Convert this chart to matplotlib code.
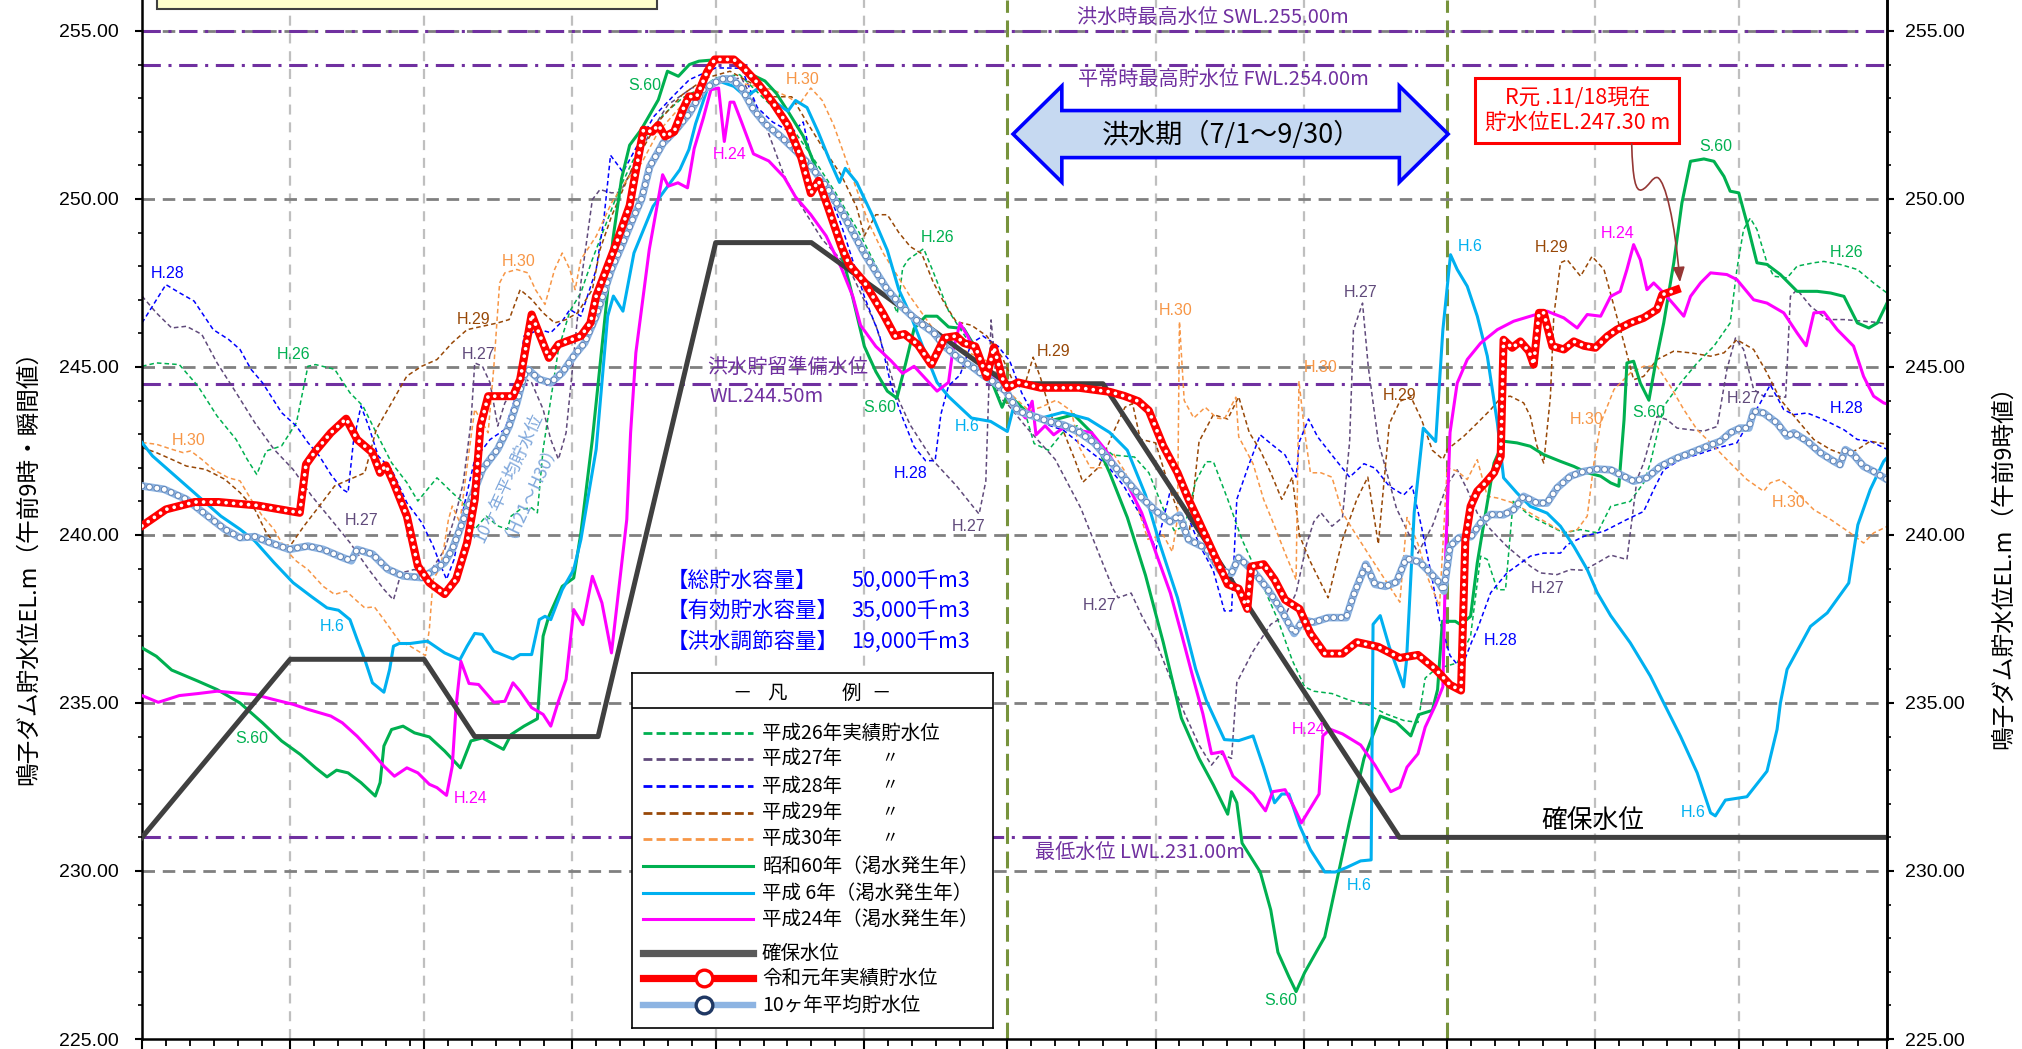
import matplotlib
matplotlib.use("Agg")
import matplotlib.pyplot as plt
from matplotlib.patches import Polygon, Rectangle, FancyArrowPatch
from matplotlib.path import Path
from matplotlib.ticker import FormatStrFormatter

JP = ["Noto Sans CJK JP", "DejaVu Sans"]
LAT = ["Liberation Sans", "DejaVu Sans"]
plt.rcParams["font.family"] = JP

# x = day of year (0 = 1/1, 365 = next 1/1)
month_start = [0, 31, 59, 90, 120, 151, 181, 212, 243, 273, 304, 334]
flood_start, flood_end = 181, 273   # 7/1 - 9/30

# ---- reservoir levels (EL.m) ----
h26_day = [0, 3, 7.8, 11.7, 15.7, 19.7, 22, 24, 26, 29.2, 32.3, 34.7, 36.3, 40.3, 43.5, 46.2, 49, 52.2, 55.4, 57.7,
           61.7, 64.9, 67.2, 69.6, 72, 74.4, 76.4, 77.2, 79.1, 81.5, 82.7, 83.9, 85.5, 87.1, 89.5, 91.8, 94.2, 96.6,
           99.8, 102.1, 105, 109, 113, 117, 120, 125, 130, 135, 140, 145, 150, 155, 158, 159.1, 160.3, 163.5, 165.5,
           168.7, 171.1, 175.1, 179.9, 181, 185.1, 186.6, 189.6, 192.6, 195.6, 200.1, 203.1, 207.6, 210.6, 213.6,
           215.9, 218.1, 220.4, 222.6, 224.1, 227.1, 230.1, 233.9, 237.6, 240.6, 243.2, 245.1, 248.9, 252.6, 256.4,
           260.1, 263.9, 266.9, 268.4, 270.6, 275.1, 277.9, 280, 281.4, 283.5, 285.2, 286.8, 290.4, 293.9, 297.4,
           300.9, 304.4, 307.2, 311.3, 314.1, 315.5, 318.3, 321.8, 325.3, 328.8, 332.2, 333.6, 335, 336.4, 337.8,
           339.9, 341.3, 344.1, 346.2, 349.7, 351.8, 355.2, 358.8, 362.2, 365]
h26_lv = [245.02, 245.12, 245.07, 244.43, 243.54, 242.84, 242.25, 241.8, 242.5, 242.65, 243.34, 245.02, 245.07, 244.93,
          244.23, 243.84, 243.04, 242.15, 241.56, 241.01, 241.7, 241.26, 240.96, 240.17, 240.56, 240.27, 240.17,
          240.56, 240.76, 240.81, 240.66, 242.55, 244.03, 245.52, 246.66, 247.21, 248.2, 249.09, 250.28, 250.97,
          251.8, 252.5, 253.0, 253.3, 253.6, 253.7, 253.0, 252.3, 251.3, 250.2, 249.0, 247.6, 246.6, 247.94, 248.2,
          248.52, 247.83, 246.67, 246.14, 245.29, 244.54, 244.11, 243.45, 242.72, 242.52, 243.05, 243.25, 242.72,
          242.38, 242.32, 241.85, 240.79, 240.13, 240.26, 241.59, 242.18, 242.18, 241.06, 239.86, 238.67, 237.47,
          236.27, 235.48, 235.35, 235.28, 235.08, 234.95, 234.68, 234.48, 234.42, 235.74, 236.01, 236.19, 236.99,
          239.37, 239.27, 238.37, 238.37, 241.0, 240.56, 240.31, 240.06, 240.16, 240.06, 240.85, 241.0, 241.55,
          242.14, 243.83, 244.52, 245.12, 245.62, 246.31, 247.9, 249.09, 249.43, 249.09, 248.1, 247.7, 247.65, 248.0,
          248.1, 248.14, 248.05, 247.9, 247.5, 247.2]

h27_day = [0, 3, 6.2, 9.3, 12.5, 15.7, 19.7, 23.6, 27.6, 31.6, 35.5, 39.5, 43.5, 47.4, 50.6, 52.6, 54.2, 56.9, 60.1,
           63.3, 65.7, 67.2, 68.8, 69.6, 71.2, 72.8, 74.4, 75.9, 77.6, 79.1, 81.5, 83.9, 85.5, 87.1, 88.7, 90.3, 91.8,
           94.2, 95.8, 98.2, 100, 103, 106, 110, 115, 120, 125.4, 130.3, 134.3, 136.7, 142.3, 147.9, 153.5, 158.3,
           160.7, 165.5, 170.3, 175.1, 176.5, 177.6, 179.1, 181, 185, 191, 196.4, 200.1, 203.1, 204.2, 206.9, 209.1,
           212.1, 215.1, 218.1, 221.1, 223.7, 225.6, 227.9, 229, 232.4, 236.1, 239.1, 241.4, 243.6, 245.1, 246.6,
           248.9, 251.1, 252.6, 253.4, 255.3, 256.5, 258.6, 262.4, 266.9, 270, 273, 275.1, 277.2, 279.3, 282.1, 285.5,
           290.4, 292.5, 296, 298.8, 301.6, 304.4, 307.2, 310.6, 312.7, 314.1, 316.9, 319, 321.1, 323.9, 326.7, 329.5,
           331.5, 333.3, 335, 337.1, 339.2, 342, 343.8, 344.8, 346.2, 349, 352.5, 356, 360.1, 365]
h27_lv = [247.11, 246.61, 246.16, 246.21, 245.97, 245.12, 244.23, 243.34, 242.55, 241.95, 241.16, 240.47, 239.77,
          238.98, 238.38, 238.07, 238.87, 238.97, 238.87, 239.56, 240.66, 241.56, 243.34, 245.12, 245.02, 244.53,
          243.24, 243.93, 244.33, 244.73, 244.53, 243.74, 242.84, 242.25, 243.04, 245.32, 247.5, 249.98, 250.28,
          250.18, 250.2, 251.0, 251.9, 252.8, 253.3, 253.5, 253.6, 252.24, 250.7, 250.06, 248.79, 247.94, 246.24,
          244.01, 243.27, 242.21, 241.47, 240.62, 241.6, 246.4, 244.12, 243.9, 243.2, 242.25, 240.79, 239.46, 238.4,
          238.13, 238.27, 237.6, 236.81, 235.74, 234.68, 233.75, 233.15, 233.49, 233.35, 235.61, 236.54, 237.34,
          237.6, 238.27, 239.73, 240.39, 240.66, 240.26, 240.52, 242.78, 246.1, 246.9, 245.0, 242.78, 240.79, 239.46,
          240.3, 241.5, 241.94, 241.35, 240.65, 240.16, 239.66, 239.07, 238.87, 238.82, 238.97, 238.95, 239.17,
          239.4, 239.27, 241.65, 242.14, 243.53, 243.43, 243.18, 243.13, 243.09, 243.23, 244.92, 245.86, 245.52,
          244.33, 244.13, 244.13, 244.1, 247.1, 247.3, 246.81, 246.41, 246.41, 246.36, 246.3]

h28_day = [0, 2.2, 5, 7.8, 10.9, 14.9, 18.1, 20.5, 22.8, 25.2, 29.2, 32.3, 34.7, 37.1, 39.5, 41.9, 43.1, 44.2, 45.8,
           47.4, 49.4, 52.2, 55.4, 58.5, 60.9, 62.5, 63.7, 65.3, 67.2, 69.6, 72.8, 75.9, 78.4, 79.9, 83.1, 85.5, 87.9,
           89.5, 91.8, 95, 96.6, 98, 100.6, 103.5, 107.1, 111.7, 114.5, 120, 125.4, 128.7, 131.9, 135.9, 138.3, 139.9,
           143.1, 146.3, 148.7, 151.1, 154.3, 156.7, 159.1, 161.5, 163.9, 165.9, 167.1, 168.7, 171.1, 173.5, 175.9,
           179.1, 181.5, 184, 186.4, 189.6, 192.8, 196, 201.6, 205.4, 209.1, 212.1, 215.1, 218.1, 221.1, 224.1, 226.4,
           227.9, 229, 231.6, 233.9, 236.1, 239.1, 241.4, 242.1, 244, 245.9, 249.6, 252.6, 255.6, 257.9, 260.9, 263.9,
           265.7, 267.6, 269.9, 271.4, 273.6, 275.9, 278.1, 279.3, 282.1, 285.5, 290.4, 293.2, 296.7, 298.1, 301.6,
           305.8, 310.6, 314.1, 316.2, 318.3, 321.8, 325.3, 329.5, 333.6, 336.4, 338.5, 340.6, 343.4, 345.5, 348.3,
           351.8, 356, 358.8, 361.5, 365]
h28_lv = [246.31, 246.81, 247.45, 247.21, 246.96, 246.11, 245.82, 245.52, 244.93, 244.53, 243.64, 243.24, 242.75,
          242.35, 241.8, 241.36, 241.26, 242.75, 243.84, 243.24, 242.35, 241.95, 240.96, 240.37, 239.67, 239.08,
          238.68, 239.28, 240.76, 242.25, 242.84, 243.14, 244.23, 245.92, 246.11, 246.02, 246.36, 246.71, 246.51,
          247.9, 249.39, 251.3, 250.8, 251.56, 252.46, 253.15, 253.55, 253.9, 253.89, 252.72, 252.29, 251.97, 252.29,
          251.23, 250.38, 249.21, 248.15, 247.09, 245.92, 244.44, 243.48, 242.63, 242.21, 242.21, 243.59, 244.44,
          244.76, 245.71, 245.92, 245.61, 245.18, 244.23, 243.59, 243.27, 243.11, 242.74, 242.12, 241.45, 240.52,
          239.59, 241.32, 240.79, 239.73, 238.93, 237.74, 237.74, 241.06, 242.12, 242.98, 242.72, 242.38, 241.72,
          242.78, 243.45, 242.92, 242.25, 241.72, 242.12, 241.99, 241.45, 241.19, 241.45, 240.26, 238.67, 237.47,
          236.41, 236.01, 236.81, 237.19, 238.28, 238.87, 239.37, 239.46, 239.46, 239.71, 239.96, 240.11, 240.46,
          240.7, 241.35, 241.94, 242.24, 242.39, 242.59, 242.74, 243.43, 243.93, 244.47, 243.73, 243.58, 243.63,
          243.43, 243.13, 242.84, 242.79, 242.55]

h29_day = [0, 3, 6.2, 9.3, 13.3, 17.3, 20.5, 23.6, 26, 28.4, 31.2, 33.9, 37.1, 40.3, 44.2, 46.6, 49, 52.2, 55.4, 58.5,
           61.7, 64.9, 68, 71.2, 74.4, 76.8, 79.1, 81.5, 83.9, 86.3, 88.7, 91.1, 94.2, 95.8, 98.2, 100.6, 103, 108,
           113, 118, 123, 128, 131.9, 135.9, 139, 142.3, 146.3, 149.5, 151.1, 153.5, 155.9, 158.3, 160.7, 163.1,
           165.5, 167.9, 170.3, 173.5, 176.7, 179.9, 182.3, 184.8, 186.4, 188, 190.4, 192.8, 195.2, 196.8, 200, 203.2,
           205.6, 207.2, 208.8, 212, 215.1, 218.9, 221.1, 224.1, 227.1, 229.4, 231.6, 233.9, 236.1, 238.4, 240.6,
           242.1, 244.4, 248.1, 251.1, 254.1, 256.4, 258.6, 260.9, 263.1, 265.4, 267.6, 269.9, 272.1, 273, 276.5,
           279.3, 282.1, 284.2, 286.2, 289, 290.4, 291.8, 293.2, 294.6, 295.3, 296.7, 298.1, 300.9, 303.3, 305.8,
           307.9, 310, 312, 314.1, 316.9, 320.4, 323.9, 328.1, 330.9, 333.6, 337.1, 339.9, 342.7, 346.2, 349.7, 353.2,
           356, 358.8, 361.5, 365]
h29_lv = [242.6, 242.45, 242.25, 242.05, 241.95, 241.66, 241.26, 240.76, 240.07, 239.62, 239.72, 240.27, 240.86, 241.46,
          241.7, 241.85, 243.14, 243.93, 244.73, 245.02, 245.22, 245.72, 246.11, 246.21, 246.31, 246.41, 247.3, 247.01,
          246.61, 246.31, 246.41, 246.61, 247.3, 248.49, 249.48, 250.28, 251.07, 252.3, 253.1, 253.6, 253.8, 253.4,
          253.04, 253.04, 252.3, 251.55, 250.7, 249.75, 248.9, 249.53, 249.53, 249.0, 248.58, 248.37, 247.52, 246.88,
          246.35, 246.24, 245.92, 245.29, 244.54, 244.54, 245.29, 244.65, 243.48, 243.06, 242.21, 241.57, 242.0,
          243.06, 243.8, 243.91, 242.85, 242.74, 241.32, 239.86, 242.78, 243.58, 243.45, 244.11, 243.05, 242.52,
          241.85, 241.06, 241.72, 239.99, 239.2, 238.13, 239.86, 241.06, 241.72, 239.73, 243.31, 243.98, 244.11,
          243.45, 242.52, 242.25, 242.54, 242.94, 243.33, 243.73, 244.08, 244.13, 243.93, 243.53, 242.64, 242.14,
          244.13, 246.51, 248.1, 248.19, 247.7, 248.29, 247.9, 246.81, 245.71, 244.62, 244.72, 245.22, 245.47, 245.42,
          245.32, 245.42, 245.81, 245.52, 244.82, 244.03, 243.43, 242.84, 242.54, 242.39, 242.54, 242.79, 242.7]

h30_day = [0, 3, 6.2, 8.6, 10.2, 12.5, 14.9, 18.1, 20.5, 22.8, 25.2, 27.6, 30, 32.3, 34.7, 37.9, 40.3, 42.7, 45, 46.6,
           48.6, 50.6, 53.8, 56.1, 59.3, 60.1, 60.9, 62.5, 64.1, 64.9, 66.5, 68, 69.6, 71.2, 72.4, 73.6, 74.8, 75.9,
           78.4, 80.7, 82.3, 84.3, 86.3, 87.9, 89.5, 90.6, 91.8, 95, 98.2, 101.4, 104.5, 108, 113, 118, 122, 127,
           131.9, 135.1, 137.5, 139.9, 142.3, 144.7, 147.1, 149.5, 151.9, 155.1, 157.5, 160.7, 163.9, 167.1, 170.3,
           173.5, 176.7, 179.9, 182.3, 185.6, 188, 191.2, 194.4, 196, 198.4, 200.8, 203.2, 205.6, 208, 210.4, 213.6,
           215.5, 216.6, 217, 218, 220, 222.4, 224.8, 226.4, 228.8, 229.4, 232.4, 234.6, 236.9, 239.1, 241.4, 242,
           243.2, 244.4, 246.6, 248.9, 251.1, 253.4, 256.4, 259.4, 263.1, 264.6, 266.9, 269.1, 271.4, 273, 275.1,
           277.2, 279.3, 281.4, 283.5, 286.9, 290.4, 293.9, 297.4, 300.2, 302.3, 303.7, 305.1, 307.9, 311.3, 314.1,
           316.9, 319.7, 322.5, 325.3, 328.8, 332.2, 335.7, 339.2, 340.6, 342.7, 346.2, 349.7, 353.2, 357.3, 360.1,
           362.2, 365]
h30_lv = [242.75, 242.7, 242.55, 242.45, 242.5, 242.25, 241.95, 241.7, 241.61, 241.06, 240.56, 240.17, 239.57, 239.22,
          238.97, 238.47, 238.23, 238.33, 238.03, 237.83, 237.86, 237.48, 236.84, 236.69, 236.41, 237.19, 238.67,
          239.07, 240.46, 240.86, 240.37, 242.05, 243.74, 243.34, 243.04, 245.02, 247.5, 247.8, 247.9, 247.8, 247.3,
          246.86, 247.9, 248.39, 247.9, 247.3, 248.2, 248.89, 249.88, 250.57, 251.07, 252.0, 252.8, 253.3, 253.5,
          253.4, 253.25, 253.04, 252.82, 253.3, 252.93, 252.19, 251.23, 250.28, 249.32, 248.37, 247.83, 247.09, 246.45,
          245.81, 245.61, 245.39, 245.18, 244.54, 244.12, 243.69, 243.8, 244.01, 243.69, 242.63, 242.0, 242.0, 242.42,
          241.89, 240.93, 239.87, 240.0, 239.5, 240.5, 246.35, 244.0, 243.48, 243.8, 243.48, 243.45, 244.1, 242.92,
          242.12, 241.06, 240.26, 239.46, 238.67, 244.58, 243.05, 241.85, 241.85, 241.72, 240.66, 240.13, 239.46,
          238.8, 238.0, 240.52, 239.73, 238.67, 237.87, 242.0, 241.9, 241.65, 242.24, 241.15, 241.1, 240.95, 240.65,
          240.36, 240.06, 240.16, 240.56, 242.14, 243.33, 244.33, 244.82, 245.02, 245.02, 244.42, 243.73, 243.13,
          242.64, 242.14, 241.65, 241.3, 241.55, 241.65, 241.25, 240.75, 240.46, 240.06, 239.76, 240.06, 240.25]

s60_day = [0, 3, 6.2, 11.7, 15.7, 20.5, 25.2, 29.2, 33.1, 36.3, 38.7, 40.7, 43.1, 45.8, 48.8, 49.8, 50.6, 52.2, 54.6,
           57, 60.1, 63.3, 66.6, 68.8, 71.2, 75.6, 77.2, 79.9, 82.7, 83.9, 85.1, 87.9, 90.3, 91.8, 94.2, 96.5, 98.5,
           100.3, 102, 104.4, 108, 109.9, 112.2, 114.5, 116.5, 120.6, 124.6, 127.1, 130.3, 132.7, 135.1, 138.3, 140.7,
           143.1, 145.5, 147.9, 149.5, 151.1, 153.5, 155.9, 157.9, 159.5, 161.5, 163.9, 166.3, 168.7, 171.9, 175.1,
           177.5, 179.9, 181.1, 185.1, 189.6, 194.9, 198.6, 202.4, 206.1, 209.9, 213.6, 217.4, 221.1, 224.1, 227.1,
           227.9, 229, 230.1, 233.9, 236.1, 237.6, 239.9, 241.4, 243.2, 247.4, 249.6, 252.6, 255.6, 259, 262.4, 265.4,
           267, 269.9, 271, 272, 274.7, 275.8, 277.9, 279.3, 280.5, 282.8, 284.8, 287.6, 290.4, 293.2, 296.7, 299.5,
           302.3, 305.1, 307.2, 308.9, 310, 310.6, 312, 313.4, 315.2, 316.6, 318.3, 320.4, 322.1, 323.9, 326.7, 328.8,
           330.9, 332.2, 334, 335.7, 337.8, 339.9, 342.7, 346.2, 350.4, 353.2, 356, 358.8, 361.2, 363, 365]
s60_lv = [236.64, 236.39, 235.98, 235.65, 235.4, 235.0, 234.41, 233.87, 233.47, 233.07, 232.8, 233.0, 232.92, 232.63,
          232.23, 232.63, 233.72, 234.21, 234.31, 234.11, 233.99, 233.57, 233.07, 233.87, 233.96, 233.62, 234.06,
          234.31, 234.53, 236.99, 237.58, 238.47, 238.72, 240.06, 242.84, 246.0, 248.8, 250.6, 251.6, 252.06, 252.95,
          253.8, 253.65, 254.0, 254.1, 254.15, 254.08, 253.73, 253.51, 253.14, 252.61, 251.87, 251.02, 249.96, 248.79,
          247.52, 246.56, 245.61, 244.86, 244.28, 244.07, 244.97, 246.14, 246.51, 246.51, 246.19, 246.14, 245.39,
          244.65, 243.8, 244.2, 243.65, 243.38, 243.58, 243.05, 241.85, 240.52, 238.8, 236.81, 234.55, 233.35, 232.56,
          231.69, 232.36, 232.03, 230.83, 229.97, 228.84, 227.58, 226.85, 226.41, 226.98, 228.04, 229.5, 231.49,
          233.35, 234.61, 234.42, 234.02, 234.65, 234.78, 235.4, 237.43, 237.43, 237.33, 237.58, 239.17, 240.2, 242.14,
          242.79, 242.74, 242.64, 242.39, 242.19, 242.04, 241.85, 241.75, 241.55, 241.45, 243.43, 245.12, 245.17,
          244.52, 244.01, 245.12, 246.31, 248.1, 249.88, 251.12, 251.19, 251.12, 250.67, 250.23, 250.18, 249.29, 248.1,
          248.05, 247.75, 247.25, 247.25, 247.2, 247.1, 246.31, 246.16, 246.31, 246.9]

h6_day = [0, 2.2, 5.4, 9.3, 13.3, 16.5, 20.5, 23.6, 27.6, 31.6, 35.5, 38.7, 41.1, 43.5, 45, 46.6, 48.2, 50.6, 51.8, 52.6,
          53.8, 56.1, 59.7, 63.3, 66.5, 68, 69.6, 71.2, 73.6, 77.6, 79.1, 81.5, 83.1, 84.3, 85.5, 87.9, 90.3, 91.8, 95,
          97.4, 98.6, 100.6, 102.9, 106.9, 112.5, 114.4, 115.8, 118.2, 120.6, 123.8, 126.3, 129.5, 131.9, 135.1, 136.7,
          139.1, 141.5, 143.9, 145.9, 147.1, 149.5, 152.7, 155.9, 158.3, 160.7, 163.9, 166.3, 168.7, 171.1, 173.5,
          177.5, 181, 182.2, 187.4, 192.6, 197.9, 202.4, 206.1, 209.9, 212.9, 216.6, 220.4, 222.6, 226.4, 229.4, 232.4,
          234.6, 236.9, 238.4, 239.9, 242.1, 244.4, 247.4, 249.6, 251.9, 254.9, 257.1, 257.5, 259, 260.9, 263.9, 264.5,
          266.1, 268, 270.6, 272.1, 273.7, 275.1, 277.2, 279.3, 281.4, 283.5, 284.8, 287.6, 290.4, 293.9, 296.7, 299.5,
          302.3, 304.4, 307.2, 311.3, 315.5, 318.3, 321.8, 325.3, 328.1, 329.1, 331.2, 335.7, 339.9, 342, 342.7, 344.1,
          349, 352.5, 357, 358.9, 361.5, 364.3, 365]
h6_lv = [242.75, 242.35, 241.95, 241.46, 240.96, 240.56, 240.17, 239.82, 239.18, 238.58, 238.16, 237.83, 237.76, 237.48,
         236.89, 236.29, 235.6, 235.32, 236.0, 236.69, 236.77, 236.77, 236.84, 236.49, 236.29, 236.69, 237.07, 237.04,
         236.54, 236.31, 236.44, 236.44, 237.48, 237.58, 237.48, 238.37, 238.97, 239.86, 242.55, 246.51, 247.11,
         246.66, 248.39, 249.78, 250.87, 251.47, 252.24, 253.25, 253.51, 253.35, 253.04, 253.35, 252.93, 252.61,
         252.93, 252.72, 251.97, 251.13, 250.49, 250.91, 250.49, 249.53, 248.47, 247.3, 246.56, 245.39, 244.54, 244.12,
         243.8, 243.48, 243.38, 243.08, 243.75, 243.45, 243.65, 243.45, 243.05, 242.52, 241.19, 239.73, 238.13, 236.01,
         235.08, 233.91, 233.88, 234.02, 233.09, 232.03, 232.29, 232.29, 231.36, 230.63, 229.97, 229.97, 230.1, 230.3,
         230.33, 237.34, 237.6, 236.67, 235.48, 236.27, 240.66, 243.18, 242.78, 246.1, 248.34, 247.9, 247.4, 246.51,
         245.32, 243.33, 241.7, 241.25, 240.85, 240.65, 240.26, 239.66, 238.97, 238.28, 237.6, 236.79, 235.8, 235.0,
         234.01, 232.92, 231.73, 231.64, 232.11, 232.21, 232.97, 234.21, 235.0, 236.0, 237.28, 237.68, 238.57, 240.3,
         241.35, 242.19, 242.3]

h24_day = [0, 3.4, 7.8, 11.7, 15.7, 19.7, 23.6, 27.6, 31.6, 34.7, 37.1, 39.5, 41.9, 45, 48.2, 50.6, 52.8, 55.4, 57.7,
           60.1, 61.7, 63.7, 64.9, 65.7, 66.7, 68.4, 70.4, 73.6, 75.9, 77.6, 79.1, 81.5, 83.9, 85.5, 87.1, 88.7, 90.3,
           92.2, 94.2, 96.2, 98.2, 99.8, 101.4, 102.2, 103.3, 106.1, 108.9, 110.1, 112.1, 114.1, 115.5, 117.4, 119,
           120.6, 121.8, 123, 123.8, 125.4, 127.9, 131.1, 134.3, 136.7, 139.9, 143.1, 146.3, 148.7, 150.3, 153.5, 156.7,
           159.1, 161.5, 163.9, 166.3, 168.7, 169.5, 171.1, 172.7, 175.1, 177.5, 179.9, 182.3, 184.8, 186.2, 187, 188.9,
           190.7, 192.6, 195.6, 198.6, 201.6, 205.4, 209.1, 212.1, 215.1, 217.4, 219.6, 221.9, 223.7, 226, 228.2, 232.4,
           235, 236.5, 239.1, 241, 242.5, 245.1, 246.2, 247, 248.5, 251.1, 254.9, 257.9, 261.2, 263.1, 264.6, 266.9,
           268.4, 270.6, 272.1, 272.7, 273.6, 275.1, 277.2, 280, 283.5, 286.9, 290.4, 293.9, 297.4, 300.2, 302.3, 305.1,
           307.2, 309.2, 310.6, 312, 313.4, 314.8, 316.2, 318.3, 320.4, 322.5, 323.9, 326, 328.1, 331.5, 333.6, 337.1,
           339.9, 343.4, 346.2, 348.1, 349.7, 351.8, 354.6, 358, 360.1, 362.2, 364.3, 365]
h24_lv = [235.22, 235.02, 235.22, 235.28, 235.35, 235.3, 235.25, 235.1, 234.96, 234.81, 234.71, 234.61, 234.41, 234.01,
          233.52, 233.12, 232.82, 233.07, 232.92, 232.58, 232.48, 232.25, 233.12, 234.91, 236.24, 235.58, 235.55,
          235.02, 235.05, 235.6, 235.35, 234.86, 234.66, 234.31, 235.05, 235.7, 237.78, 237.33, 238.77, 237.98, 236.49,
          238.47, 240.46, 243.04, 245.42, 248.49, 250.72, 250.38, 250.48, 250.33, 251.5, 252.4, 253.25, 253.3, 251.71,
          252.88, 252.88, 252.29, 251.34, 251.13, 250.65, 250.06, 249.53, 248.9, 247.94, 247.09, 246.24, 245.61,
          245.18, 244.81, 245.02, 244.65, 244.28, 244.54, 245.39, 246.3, 245.92, 245.18, 244.76, 244.44, 243.91,
          243.48, 243.98, 242.98, 243.25, 242.98, 243.18, 243.11, 243.05, 242.52, 241.72, 240.66, 239.46, 238.27,
          237.07, 235.88, 234.68, 233.49, 233.55, 232.82, 232.29, 231.79, 232.36, 232.42, 231.89, 231.43, 232.03,
          232.29, 234.02, 234.22, 234.08, 233.75, 233.15, 232.36, 232.49, 233.09, 233.49, 234.28, 234.95, 235.48,
          239.46, 243.05, 244.52, 245.22, 245.71, 246.11, 246.36, 246.51, 246.66, 246.46, 246.16, 246.56, 246.51,
          247.1, 247.25, 247.9, 248.64, 248.19, 247.3, 247.5, 247.2, 246.86, 246.51, 247.1, 247.5, 247.8, 247.75,
          247.6, 247.0, 246.9, 246.61, 246.01, 245.63, 246.61, 246.63, 246.11, 245.62, 244.72, 244.13, 243.93, 243.9]

secure_day = [0, 31, 59, 69.6, 95.4, 120, 140, 181, 201, 263, 365]
secure_lv = [231.0, 236.3, 236.3, 234.0, 234.0, 248.7, 248.7, 244.5, 244.5, 231.0, 231.0]

r1_day = [0, 5, 11, 16, 24, 33, 34.3, 36.3, 39.5, 42.7, 45, 48.2, 49.8, 51, 52.6, 55.4, 57.7, 60.1, 63.3, 65.7, 68,
          69.6, 70.8, 72.4, 75.2, 77.6, 79.1, 81.5, 85.1, 87.1, 91.8, 93.8, 95, 99, 102, 103.5, 104.9, 106.7, 108,
          109.4, 111.3, 113.1, 114.4, 116, 118.2, 119.8, 123.8, 125.9, 128.7, 131.9, 135.1, 137.9, 139.9, 141.5, 143.5,
          146.3, 147.9, 151.1, 155.1, 157.5, 159.5, 162.3, 165.1, 167.9, 170.3, 171.9, 174.3, 176.7, 178.2, 180, 181.1,
          183.2, 188, 196, 202.4, 205.4, 208.4, 210.6, 213.6, 216.6, 218.9, 221.1, 224.1, 227.1, 229.4, 231.2, 232,
          234.6, 236.9, 239.1, 242.1, 244.4, 247.4, 251.1, 254.1, 258.6, 263.1, 266.9, 270.6, 273.6, 275.9, 276.8,
          277.9, 279.3, 281, 282.8, 284.2, 284.8, 286.6, 288.3, 290.1, 291.1, 292.2, 293.2, 295, 297.4, 299.5, 301.6,
          304, 306.5, 308.5, 311.3, 314.1, 316.9, 318, 321]
r1_lv = [240.27, 240.76, 240.98, 240.98, 240.88, 240.66, 242.1, 242.5, 243.04, 243.46, 242.84, 242.45, 241.85, 242.07,
         241.56, 240.56, 239.08, 238.58, 238.24, 238.68, 239.77, 241.06, 243.24, 244.13, 244.13, 244.13, 244.63, 246.56,
         245.27, 245.67, 245.92, 246.31, 247.11, 248.6, 249.8, 251.0, 252.06, 252.0, 252.2, 251.86, 252.0, 252.65,
         253.05, 253.04, 253.78, 254.15, 254.15, 253.89, 253.46, 252.88, 252.19, 251.23, 250.17, 250.54, 249.75,
         248.58, 248.05, 247.52, 246.56, 245.92, 245.98, 245.66, 245.07, 245.87, 245.92, 245.71, 245.61, 244.7, 245.58,
         244.65, 244.38, 244.54, 244.38, 244.38, 244.26, 244.14, 243.98, 243.7, 242.65, 241.85, 241.06, 240.39, 239.46,
         238.53, 238.4, 237.8, 239.06, 239.13, 238.67, 238.07, 237.8, 237.07, 236.47, 236.47, 236.81, 236.67, 236.34,
         236.43, 236.0, 235.54, 235.37, 239.86, 240.85, 241.3, 241.55, 241.85, 242.34, 245.81, 245.57, 245.76, 245.47,
         245.07, 246.61, 246.61, 245.62, 245.52, 245.76, 245.63, 245.57, 245.91, 246.11, 246.31, 246.46, 246.71,
         247.15, 247.3]

avg_day = [0, 4.6, 9.3, 13.3, 17.3, 20.5, 23.6, 26.8, 30.8, 34.7, 37.9, 41.9, 43.8, 45, 48.2, 51.4, 54.6, 58.5, 60.9,
           63.3, 64.9, 66.5, 68.8, 71.2, 74.4, 76.8, 78.4, 79.9, 80.7, 83.1, 85.5, 87.9, 90.3, 92.6, 95, 98.2, 100.6,
           102.9, 104.5, 106.2, 109, 111.7, 114.5, 117.4, 119.8, 121.4, 123.4, 125.4, 127.9, 130.3, 133.5, 136.7, 139.9,
           143.1, 146.3, 148.7, 151.1, 153.5, 155.9, 159.1, 162.3, 165.5, 167.9, 171.1, 173.5, 175.9, 178.3, 180.7,
           183.2, 186.4, 189.6, 192.8, 196, 199.2, 202.4, 205.6, 208.8, 212, 215.1, 217, 218.9, 222.6, 225.6, 227.9,
           229.4, 232.4, 235.4, 238.4, 241, 242.9, 245.1, 248.1, 251.9, 253.4, 256, 257.9, 260.1, 262.4, 264.4, 267.2,
           269.3, 271.2, 272.3, 273.6, 275.5, 278, 280, 282.1, 284.8, 286.9, 289, 291.8, 293.9, 296, 298.8, 301.6,
           304.4, 307.2, 309.9, 312, 314.8, 317.6, 321.1, 323.9, 327.4, 330.2, 332.2, 334.3, 336.1, 337.1, 339.2, 342,
           344.1, 345.5, 348.3, 351.1, 353.9, 355.2, 356.3, 358, 360.1, 362.2, 365]
avg_lv = [241.46, 241.36, 241.06, 240.61, 240.17, 239.92, 239.95, 239.77, 239.57, 239.67, 239.57, 239.33, 239.23,
          239.57, 239.43, 238.98, 238.78, 238.73, 238.93, 239.18, 239.57, 240.17, 241.06, 241.95, 242.55, 243.24,
          243.93, 244.73, 244.93, 244.63, 244.53, 244.83, 245.32, 245.72, 246.51, 247.9, 248.69, 249.48, 250.0, 250.96,
          251.66, 252.06, 252.55, 253.25, 253.46, 253.57, 253.57, 253.3, 252.66, 252.24, 251.87, 251.44, 250.97,
          250.38, 249.64, 249.0, 248.37, 247.83, 247.3, 246.77, 246.35, 246.03, 245.61, 245.23, 245.02, 244.76,
          244.54, 244.28, 243.69, 243.54, 243.38, 243.27, 243.06, 242.74, 242.21, 241.68, 241.15, 240.72, 240.39,
          240.59, 239.86, 239.6, 238.93, 238.86, 239.33, 238.93, 238.4, 237.74, 237.07, 237.47, 237.4, 237.54, 237.54,
          238.2, 239.13, 238.53, 238.47, 238.6, 239.3, 239.2, 238.9, 238.6, 238.33, 239.66, 239.92, 239.95, 240.36,
          240.61, 240.6, 240.75, 241.15, 240.95, 240.95, 241.4, 241.75, 241.89, 241.96, 241.94, 241.75, 241.6, 241.7,
          242.04, 242.29, 242.44, 242.64, 242.79, 243.04, 243.18, 243.18, 243.68, 243.63, 243.33, 242.94, 243.04,
          242.79, 242.44, 242.19, 242.09, 242.54, 242.39, 242.04, 241.89, 241.65]

# reference elevations
SWL, FWL, PREP_WL, LWL = 255.0, 254.0, 244.5, 231.0

C26, C27, C28, C29, C30 = "#00B050", "#604A7B", "#0000FF", "#984807", "#F79646"
CS60, CH6, CH24 = "#00B050", "#00B0F0", "#FF00FF"
CSEC, CR1, CAVG = "#404040", "#FF0000", "#8DB4E2"
PURPLE = "#7030A0"

series_labels = [
    ("H.28", 5.4, 247.79, C28), ("H.26", 31.6, 245.37, C26), ("H.30", 9.7, 242.8, C30),
    ("H.27", 45.9, 240.42, C27), ("H.6", 39.7, 237.27, CH6), ("S.60", 22.9, 233.93, CS60),
    ("H.24", 68.8, 232.17, CH24), ("H.30", 78.8, 248.13, C30), ("H.29", 69.3, 246.4, C29),
    ("H.27", 70.4, 245.37, C27), ("S.60", 105.2, 253.39, CS60), ("H.30", 138.1, 253.54, C30),
    ("H.24", 123, 251.32, CH24), ("H.26", 166.4, 248.86, C26), ("H.29", 190.7, 245.45, C29),
    ("S.60", 154.3, 243.8, CS60), ("H.6", 172.6, 243.22, CH6), ("H.28", 160.8, 241.84, C28),
    ("H.27", 172.9, 240.26, C27), ("H.30", 216.3, 246.67, C30), ("H.30", 246.6, 244.98, C30),
    ("H.27", 254.9, 247.21, C27), ("H.29", 263, 244.14, C29), ("H.27", 200.2, 237.89, C27),
    ("H.24", 244.1, 234.2, CH24), ("H.6", 254.7, 229.56, CH6), ("S.60", 238.2, 226.14, CS60),
    ("H.6", 277.9, 248.59, CH6), ("H.29", 294.8, 248.55, C29), ("H.24", 308.6, 248.98, CH24),
    ("S.60", 329.1, 251.55, CS60), ("H.26", 356.6, 248.4, C26), ("H.30", 302.1, 243.45, C30),
    ("S.60", 315.1, 243.64, CS60), ("H.27", 335, 244.06, C27), ("H.28", 356.6, 243.76, C28),
    ("H.30", 344.5, 240.96, C30), ("H.27", 294, 238.42, C27), ("H.28", 284.1, 236.85, C28),
    ("H.6", 324.5, 231.75, CH6),
]

legend_labels = ["平成26年実績貯水位", "平成27年", "平成28年", "平成29年", "平成30年",
                 "昭和60年（渇水発生年）", "平成 6年（渇水発生年）", "平成24年（渇水発生年）",
                 "確保水位", "令和元年実績貯水位", "10ヶ年平均貯水位"]

W, H = 2022, 1049
fig = plt.figure(figsize=(W / 100, H / 100), dpi=100)
fig.patch.set_facecolor("white")
ax = fig.add_axes([142 / W, 10 / H, 1745 / W, 1039 / H])
ax.set_xlim(0, 365)
ax.set_ylim(225, 255.92)

# grid
for m in month_start[1:]:
    if m in (flood_start, flood_end):
        ax.axvline(m, color="#77933C", lw=2.2, ls=(0, (5.5, 2.5)), zorder=1)
    else:
        ax.axvline(m, color="#BFBFBF", lw=1.6, ls=(0, (4.5, 3.5)), zorder=1)
for v in (230, 235, 240, 245, 250, 255):
    ax.axhline(v, color="#808080", lw=2.0, ls=(0, (4.5, 2.8)), zorder=1)
for v in (SWL, FWL, PREP_WL, LWL):
    ax.axhline(v, color=PURPLE, lw=2.2, ls=(0, (6, 2.5, 1, 2.5)), zorder=1.5)

# past years
dash = (0, (3, 2))
for d, lv, c in [(h26_day, h26_lv, C26), (h27_day, h27_lv, C27), (h28_day, h28_lv, C28),
                 (h29_day, h29_lv, C29), (h30_day, h30_lv, C30)]:
    ax.plot(d, lv, color=c, lw=1.1, ls=dash, zorder=2)
for d, lv, c in [(s60_day, s60_lv, CS60), (h6_day, h6_lv, CH6), (h24_day, h24_lv, CH24)]:
    ax.plot(d, lv, color=c, lw=2.2, zorder=3, solid_joinstyle="round")
ax.plot(secure_day, secure_lv, color=CSEC, lw=3.6, zorder=3.5)


def bead_line(x, y, size, color, z, step=5.4):
    # round dots spaced evenly along the path
    with plt.rc_context({"lines.scale_dashes": False}):
        ax.plot(x, y, color=color, lw=size, ls=(0, (0.01, step)),
                dash_capstyle="round", zorder=z)


ax.plot(avg_day, avg_lv, color=CAVG, lw=5.5, zorder=5, solid_joinstyle="round")
bead_line(avg_day, avg_lv, 4.9, "#5F82B4", 5.1)
bead_line(avg_day, avg_lv, 3.5, "white", 5.2)

ax.plot(r1_day, r1_lv, color=CR1, lw=5.8, zorder=6, solid_joinstyle="round")
bead_line(r1_day, r1_lv, 2.7, "white", 6.1)

ax.spines["top"].set_visible(False)
for s in ("left", "right", "bottom"):
    ax.spines[s].set_linewidth(1.8)

# ticks
ax.set_xticks(month_start + [365])
ax.set_xticks([m + k for m in month_start for k in (5, 10, 15, 20, 25)], minor=True)
ax.tick_params(axis="x", which="major", length=7, width=1.5, labelbottom=False)
ax.tick_params(axis="x", which="minor", length=5, width=1.3)
yt = [225, 230, 235, 240, 245, 250, 255]
ax.set_yticks(yt)
ax.set_yticks(range(225, 256), minor=True)
ax.yaxis.set_major_formatter(FormatStrFormatter("%.2f"))
ax.tick_params(axis="y", which="major", length=5, width=1.5, labelsize=14, pad=12,
               labelfontfamily="Liberation Sans")
ax.tick_params(axis="y", which="minor", length=3, width=1.2)

ax2 = ax.twinx()
ax2.set_ylim(ax.get_ylim())
ax2.set_yticks(yt)
ax2.set_yticks(range(225, 256), minor=True)
ax2.yaxis.set_major_formatter(FormatStrFormatter("%.2f"))
ax2.tick_params(axis="y", which="major", length=5, width=1.5, labelsize=14, pad=8,
                labelfontfamily="Liberation Sans")
ax2.tick_params(axis="y", which="minor", length=3, width=1.2)
for s in ("top", "left", "bottom"):
    ax2.spines[s].set_visible(False)
ax2.spines["right"].set_linewidth(1.8)

# reference level notes
ax.text(224, 255.39, "洪水時最高水位 SWL.255.00m", color=PURPLE, fontsize=14.5, ha="center", va="center", zorder=9)
ax.text(226.1, 253.55, "平常時最高貯水位 FWL.254.00m", color=PURPLE, fontsize=14.5, ha="center", va="center", zorder=9)
ax.text(135, 244.97, "洪水貯留準備水位", color=PURPLE, fontsize=14.5, ha="center", va="center", zorder=9)
ax.text(130.6, 244.12, "WL.244.50m", color=PURPLE, fontsize=14.5, ha="center", va="center", zorder=9)
ax.text(208.8, 230.56, "最低水位 LWL.231.00m", color=PURPLE, fontsize=14.5, ha="center", va="center", zorder=9)
ax.text(303.5, 231.49, "確保水位", color="black", fontsize=18.5, ha="center", va="center", zorder=9)

# flood season arrow
yc, bh, hh, hl = 251.93, 0.7, 1.43, 10.2
xl, xr = flood_start + 1.2, flood_end + 0.2
arrow = Polygon([(xl, yc), (xl + hl, yc + hh), (xl + hl, yc + bh), (xr - hl, yc + bh), (xr - hl, yc + hh),
                 (xr, yc), (xr - hl, yc - hh), (xr - hl, yc - bh), (xl + hl, yc - bh), (xl + hl, yc - hh)],
                closed=True, fc="#C6D9F1", ec="#0000FF", lw=2.6, joinstyle="miter", zorder=8)
ax.add_patch(arrow)
ax.text(227.8, 251.9, "洪水期（7/1～9/30）", fontsize=19.5, ha="center", va="center", zorder=9)

# capacity note
cap_rows = [("【総貯水容量】", "50,000千m3", 238.62), ("【有効貯水容量】", "35,000千m3", 237.74),
            ("【洪水調節容量】", "19,000千m3", 236.82)]
for name, val, y in cap_rows:
    ax.text(109.8, y, name, color="#0000FF", fontsize=15.5, ha="left", va="center", zorder=9)
    ax.text(173.2, y, val, color="#0000FF", fontsize=15.5, ha="right", va="center", zorder=9)

# average label along its rise
ax.text(78.5, 241.6, "10ヶ年平均貯水位\n（H21～H30）", color="#7FA7DB", fontsize=12.5, rotation=65,
        ha="center", va="center", rotation_mode="anchor", linespacing=1.05, zorder=9)

for txt, x, y, c in series_labels:
    ax.text(x, y, txt, color=c, fontsize=11.5, ha="center", va="center", family=LAT, zorder=9)

# current level callout
ax.text(300.2, 252.63, "R元 .11/18現在\n貯水位EL.247.30 m", color=CR1, fontsize=15.5, ha="center", va="center",
        linespacing=1.15, zorder=10,
        bbox=dict(boxstyle="square,pad=0.42", fc="white", ec=CR1, lw=2.2))
tip = (r1_day[-1] + 0.7, r1_lv[-1] + 0.22)
call = Path([(311.6, 251.64), (311.8, 250.6), (312.4, 250.2), (313.7, 250.27),
             (315.2, 250.35), (316.0, 250.7), (317.1, 250.63),
             (318.6, 250.5), (320.6, 249.4), tip],
            [Path.MOVETO] + [Path.CURVE4] * 9)
ax.add_patch(FancyArrowPatch(path=call, arrowstyle="-|>,head_length=9,head_width=3.6",
                             color="#953735", lw=1.2, shrinkA=0, shrinkB=0, zorder=10))

# axis titles
fig.text(28 / W, 1 - 562 / H, "鳴子ダム貯水位EL.m（午前9時・瞬間値）", rotation=90, fontsize=17,
         ha="center", va="center")
fig.text(2003 / W, 1 - 561 / H, "鳴子ダム貯水位EL.m（午前9時値）", rotation=90, fontsize=17,
         ha="center", va="center")

# title box (cut at the top edge)
fig.add_artist(Rectangle((157 / W, 1 - 9 / H), 500 / W, 40 / H, transform=fig.transFigure,
                         fc="#FFFFCC", ec="#404040", lw=1.5, zorder=20))

# legend panel
lg = fig.add_axes([632 / W, 1 - 1028 / H, 361 / W, 355 / H])
lg.set_xlim(0, 361)
lg.set_ylim(355, 0)
lg.set_xticks([])
lg.set_yticks([])
for s in lg.spines.values():
    s.set_linewidth(1.2)
for ch, x in zip(["－", "凡", "例", "－"], [110, 145, 219, 249]):
    lg.text(x, 20, ch, ha="center", va="center", fontsize=14)
lg.axhline(35, color="black", lw=1.2)

row_y = [60, 86, 113, 140, 166, 193, 220, 246, 280, 305, 332]
leg_dash = (0, (3.2, 1.5))
styles = [dict(color=C26, lw=2, ls=leg_dash), dict(color=C27, lw=2, ls=leg_dash),
          dict(color=C28, lw=2, ls=leg_dash), dict(color=C29, lw=2, ls=leg_dash),
          dict(color=C30, lw=2, ls=leg_dash), dict(color=CS60, lw=2.2), dict(color=CH6, lw=2.2),
          dict(color=CH24, lw=2.2), dict(color="#595959", lw=5.2), dict(color=CR1, lw=5.2),
          dict(color=CAVG, lw=4.6)]
for i, (lab, y, st) in enumerate(zip(legend_labels, row_y, styles)):
    lg.plot([11, 121], [y, y], **st)
    lg.text(130, y, lab, fontsize=14, va="center", ha="left")
    if 1 <= i <= 4:
        lg.text(258, y, "〃", fontsize=12, va="center", ha="center")
lg.plot([72], [row_y[9]], "o", ms=12, mfc="white", mec=CR1, mew=2.4)
lg.plot([72], [row_y[10]], "o", ms=12, mfc="white", mec="#1F3864", mew=2.4)

fig.savefig("out.png", dpi=100)
